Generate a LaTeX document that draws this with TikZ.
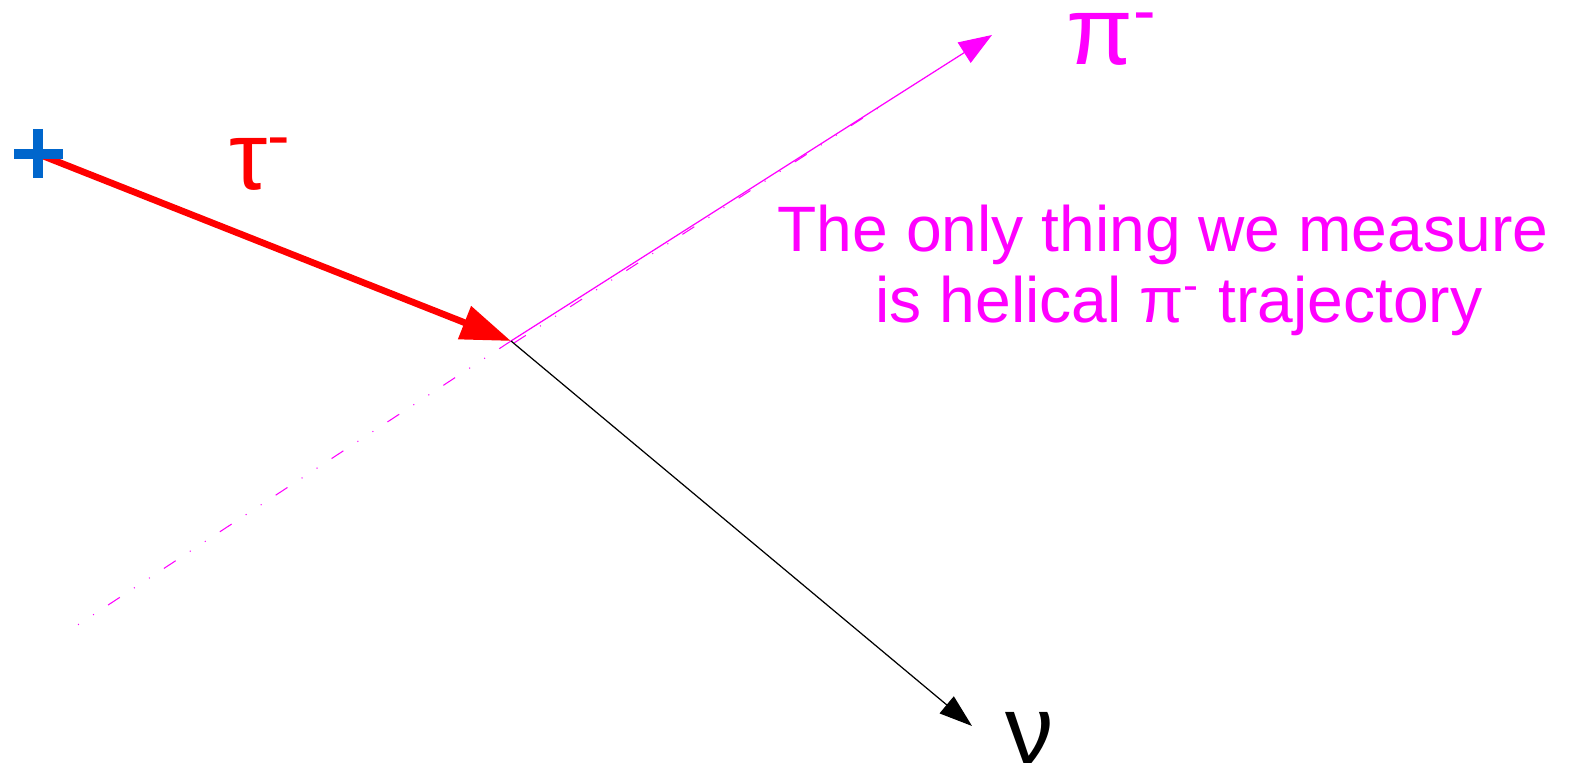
\documentclass[tikz,border=0pt]{standalone}
\usepackage{fontspec}
\setmainfont{Liberation Sans}
\usetikzlibrary{arrows.meta}
\definecolor{plusblue}{HTML}{0066CC}
\definecolor{pimag}{HTML}{FF00FF}
\tikzset{
  greeklabel/.style={inner sep=0pt, anchor=base west, font=\fontsize{27.5}{30}\selectfont},
  helixline/.style={pimag, line width=0.3pt,
    dash pattern=on 4pt off 4.8pt on 0.3pt off 4.8pt on 0.3pt off 4.8pt}
}
\begin{document}
\begin{tikzpicture}[x=0.01cm, y=-0.01cm]
        \useasboundingbox (0,0) rectangle (1573,768);
        % Points
        \coordinate (prod) at (38,154);
        \coordinate (vtx) at (511,341);
        \coordinate (piend) at (992,35);
        \coordinate (nuend) at (972,726);
        \coordinate (back) at (70,630);
        \coordinate (helixa) at (514,343);
        \coordinate (helixb) at (880,107);

        % Tau (red)
        \draw[red, line width=1.9pt, -{Triangle[length=0.5cm, width=0.34cm]}] (prod) -- (vtx);
        \draw[plusblue, line width=3pt] (14,154) -- (63,154) (38,129) -- (38,178);

        % Pion (magenta)
        \draw[pimag, line width=0.35pt, -{Triangle[length=0.33cm, width=0.24cm]}] (vtx) -- (piend);
        \draw[helixline] (vtx) -- (back);
        \draw[helixline] (helixa) -- (helixb);

        % Neutrino (black)
        \draw[black, line width=0.35pt, -{Triangle[length=0.33cm, width=0.22cm]}] (vtx) -- (nuend);

        % Labels
        \node[greeklabel, red] (taulbl) at (229,190) {τ\textsuperscript{-}};
        \node[greeklabel, pimag] (pilbl) at (1066,65) {π\textsuperscript{-}};
        \node[greeklabel, black] (nulbl) at (1005,764) {ν};
        \node[pimag, inner sep=0pt, align=center, font=\fontsize{18.25}{20.2}\selectfont] (note) at (1163,270)
          {The only thing we measure\\\hspace*{0.32cm}is helical π\textsuperscript{-} trajectory};
\end{tikzpicture}
\end{document}
